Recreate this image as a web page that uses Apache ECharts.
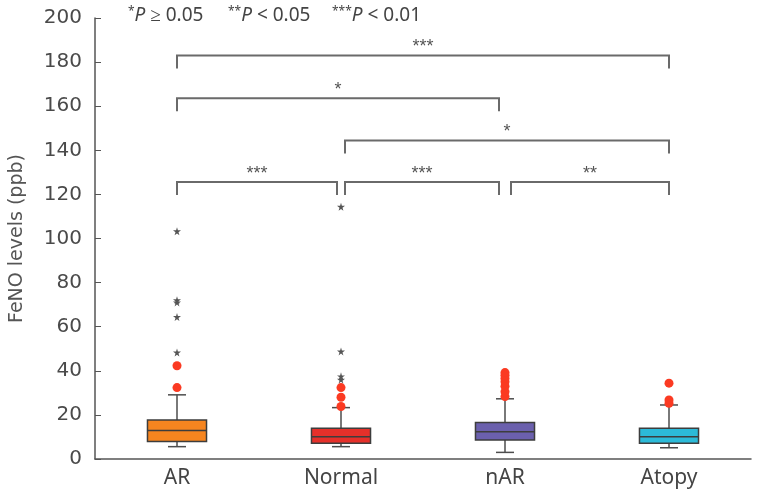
<!DOCTYPE html>
<html>
<head>
<meta charset="utf-8">
<script src="https://cdn.jsdelivr.net/npm/echarts@6/dist/echarts.min.js"></script>
<style>
  html, body { margin: 0; padding: 0; background: #fff; }
  #chart { width: 768px; height: 495px; }
</style>
</head>
<body>
<div id="chart"></div>
<script>
const categories = ["AR", "Normal", "nAR", "Atopy"];
// [lower whisker, Q1, median, Q3, upper whisker]
const boxStats = [
  [5.6, 7.9, 12.9, 17.7, 29.1],
  [5.6, 7.1, 10.1, 13.9, 23.3],
  [3.0, 8.6, 12.4, 16.5, 27.3],
  [5.1, 7.1, 10.1, 13.9, 24.5],
];
const boxColors = ["#f6851f", "#e5302a", "#6b60ad", "#2cbad8"];
// red dots (outliers)
const outliers = [
  [0, 42.3], [0, 32.4],
  [1, 23.8], [1, 28.0], [1, 32.4],
  [2, 28.3], [2, 30.5], [2, 33.0], [2, 35.0], [2, 36.5], [2, 38.0], [2, 39.2],
  [3, 25.3], [3, 26.8], [3, 34.4],
];
// star marks (extreme values)
const extremes = [
  [0, 103.3], [0, 72.0], [0, 71.0], [0, 64.4], [0, 48.3],
  [1, 114.4], [1, 48.8], [1, 37.5], [1, 36.0],
];
// significance brackets: [from, to, height]
const bracketPairs = [
  [0, 3, 183.0],
  [0, 2, 163.6],
  [1, 3, 144.5],
  [0, 1, 125.6],
  [1, 2, 125.6],
  [2, 3, 125.6],
];
const bracketLabels = ["***", "*", "*", "***", "***", "**"];
const pLegend = [
  { stars: "*", rest: " ≥ 0.05" },
  { stars: "**", rest: " < 0.05" },
  { stars: "***", rest: " < 0.01" },
];

const endInset = [0, 4, 6, 0];
const legendX = [128, 228, 332];
const starPath = "path://M50,0 L61,35 L98,35 L68,57 L79,91 L50,70 L21,91 L32,57 L2,35 L39,35 Z";

function renderBox(params, api) {
  const i = api.value(0);
  const lo = api.coord([i, api.value(1)]);
  const q1 = api.coord([i, api.value(2)]);
  const med = api.coord([i, api.value(3)]);
  const q3 = api.coord([i, api.value(4)]);
  const hi = api.coord([i, api.value(5)]);
  const band = api.size([1, 0])[0];
  const half = band * 0.18;
  const cap = band * 0.055;
  const x = lo[0];
  const ln = { stroke: "#4d4d4d", lineWidth: 1.5 };
  return {
    type: "group",
    children: [
      { type: "line", shape: { x1: x, y1: hi[1], x2: x, y2: q3[1] }, style: ln },
      { type: "line", shape: { x1: x, y1: q1[1], x2: x, y2: lo[1] }, style: ln },
      { type: "line", shape: { x1: x - cap, y1: hi[1], x2: x + cap, y2: hi[1] }, style: ln },
      { type: "line", shape: { x1: x - cap, y1: lo[1], x2: x + cap, y2: lo[1] }, style: ln },
      {
        type: "rect",
        shape: { x: x - half, y: q3[1], width: half * 2, height: q1[1] - q3[1] },
        style: { fill: boxColors[i], stroke: "#3d3d3d", lineWidth: 1.5 },
      },
      { type: "line", shape: { x1: x - half, y1: med[1], x2: x + half, y2: med[1] }, style: { stroke: "#3d3d3d", lineWidth: 1.5 } },
    ],
  };
}

function renderBracket(params, api) {
  const a = api.value(0);
  const b = api.value(1);
  const h = api.value(2);
  const p1 = api.coord([a, h]);
  const p2 = api.coord([b, h]);
  const drop = 13;
  const x1 = p1[0] + endInset[a];
  const x2 = p2[0] - endInset[b];
  return {
    type: "group",
    children: [
      {
        type: "polyline",
        shape: { points: [[x1, p1[1] + drop], [x1, p1[1]], [x2, p2[1]], [x2, p2[1] + drop]] },
        style: { stroke: "#6a6a6a", lineWidth: 2, fill: null },
      },
      {
        type: "text",
        style: {
          text: bracketLabels[params.dataIndex],
          x: (x1 + x2) / 2,
          y: p1[1] - 8,
          align: "center",
          verticalAlign: "middle",
          fill: "#555",
          font: "18px 'Liberation Sans'",
        },
      },
    ],
  };
}

const chart = echarts.init(document.getElementById("chart"));
chart.setOption({
  animation: false,
  backgroundColor: "#fff",
  grid: { left: 95, right: 17, top: 18, bottom: 36 },
  graphic: pLegend.map((g, k) => ({
    type: "text",
    left: legendX[k],
    top: 6,
    style: {
      text: "{s|" + g.stars + "}{p|P}{t|" + g.rest + "}",
      rich: {
        s: { fontSize: 12, fontFamily: "Noto Sans", fill: "#444", verticalAlign: "top" },
        p: { fontSize: 19, fontFamily: "Noto Sans", fontStyle: "italic", fill: "#444" },
        t: { fontSize: 19, fontFamily: "Noto Sans", fill: "#444" },
      },
    },
  })),
  xAxis: {
    type: "category",
    data: categories,
    axisLine: { lineStyle: { color: "#555", width: 1.5 } },
    axisTick: { inside: true, length: 6, lineStyle: { color: "#555" } },
    axisLabel: { color: "#444", fontSize: 21, fontFamily: "Noto Sans", margin: 9 },
  },
  yAxis: {
    type: "value",
    min: 0,
    max: 200,
    interval: 20,
    name: "FeNO levels (ppb)",
    nameLocation: "middle",
    nameGap: 68,
    nameTextStyle: { color: "#555", fontSize: 19, fontFamily: "DejaVu Sans" },
    splitLine: { show: false },
    axisLine: { show: true, lineStyle: { color: "#555", width: 1.5 } },
    axisTick: { show: true, inside: true, length: 6, lineStyle: { color: "#555" } },
    axisLabel: { color: "#4a4a4a", fontSize: 20, fontFamily: "DejaVu Sans", margin: 13 },
  },
  series: [
    {
      type: "custom",
      renderItem: renderBox,
      encode: { x: 0, y: [1, 2, 3, 4, 5] },
      data: categories.map((c, i) => [i].concat(boxStats[i])),
      z: 2,
    },
    {
      type: "scatter",
      data: outliers,
      symbol: "circle",
      symbolSize: 9,
      itemStyle: { color: "#fb3a22", opacity: 1 },
      z: 3,
    },
    {
      type: "scatter",
      data: extremes,
      symbol: starPath,
      symbolSize: 8,
      itemStyle: { color: "#555", opacity: 1 },
      z: 3,
    },
    {
      type: "custom",
      renderItem: renderBracket,
      encode: { x: 0, y: 2 },
      data: bracketPairs,
      clip: false,
      z: 4,
    },
  ],
});
</script>
</body>
</html>
